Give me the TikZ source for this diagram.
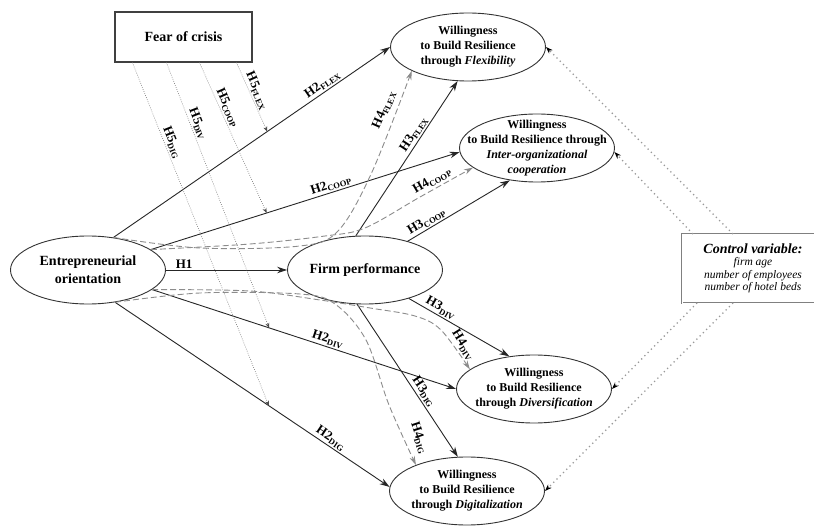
\documentclass[tikz,border=0pt]{standalone}
\usepackage{fontspec}
\setmainfont{Liberation Serif}
\usetikzlibrary{shapes.geometric,arrows.meta,calc}

% hypothesis label: bold name with a small lowered tag
\newcommand{\hlab}[2]{#1{\fontsize{8.5}{9}\selectfont\raisebox{-2.3pt}{#2}}}

\begin{document}
\begin{tikzpicture}[x=1pt,y=-1pt,
  construct/.style={ellipse, draw=black!80, line width=0.9pt, fill=white,
    inner sep=-60pt, minimum width=155pt, minimum height=68pt, align=center,
    font=\fontsize{12}{15}\selectfont\bfseries},
  mainconstruct/.style={construct, font=\fontsize{14}{18}\selectfont\bfseries},
  direct/.style={draw=black!85, line width=0.9pt, -{Stealth[length=10pt,width=6.5pt]}},
  indirect/.style={draw=black!45, line width=0.9pt, dash pattern=on 6pt off 3pt,
    -{Stealth[length=9pt,width=5.5pt]}},
  moderation/.style={draw=black!55, line width=0.6pt, dash pattern=on 0.7pt off 1.5pt,
    -{Stealth[length=5pt,width=4pt,black!70]}},
  controlpath/.style={draw=black!40, line width=1.8pt, line cap=round,
    dash pattern=on 0pt off 4.6pt, -{Stealth[length=7pt,width=5pt,black]}},
  hyp/.style={font=\fontsize{13}{13}\selectfont\bfseries, sloped, above, inner sep=1.5pt},
  hypfree/.style={font=\fontsize{13}{13}\selectfont\bfseries, inner sep=1pt},
]
\useasboundingbox (0,0) rectangle (814,526);
\fill[white] (0,0) rectangle (814,526);

% constructs
\node[mainconstruct] (eo) at (88,270) {Entrepreneurial\\orientation};
\node[mainconstruct] (fp) at (365,270) {Firm performance};
\node[construct] (flex) at (468,47) {Willingness\\to Build Resilience\\through \textit{Flexibility}};
\node[construct] (coop) at (537,148) {Willingness\\to Build Resilience through\\\textit{Inter-organizational}\\\textit{cooperation}};
\node[construct] (div) at (534,389) {Willingness\\to Build Resilience\\through \textit{Diversification}};
\node[construct] (dig) at (467,491) {Willingness\\to Build Resilience\\through \textit{Digitalization}};

\node[draw=black!75, line width=1.1pt, minimum width=137pt, minimum height=50pt,
  inner sep=0pt, font=\fontsize{14}{16}\selectfont\bfseries] (fear) at (183.5,37) {Fear of crisis};

\node[draw=black!50, double=white, double distance=0.9pt, line width=0.7pt,
  minimum width=142pt, minimum height=69pt, inner sep=0pt, align=center,
  font=\fontsize{11.5}{12.5}\selectfont\itshape] (ctrl) at (753,268.5)
  {{\fontsize{14}{15}\selectfont\bfseries Control variable:}\\firm age\\number of employees\\number of hotel beds};

% direct effects of entrepreneurial orientation
\draw[direct] (eo.52) -- node[hyp, pos=0.77] {\hlab{H2}{FLEX}} coordinate[pos=0.556] (m-flex) (flex.west);
\draw[direct] (eo.18) -- node[hyp, pos=0.59] {\hlab{H2}{COOP}} coordinate[pos=0.375] (m-coop) (coop.183);
\draw[direct] (eo.east) -- node[hyp, pos=0.15] {H1} (fp.west);
\draw[direct] (eo.-17) -- node[hyp, pos=0.57] {\hlab{H2}{DIV}} coordinate[pos=0.385] (m-div) (div.west);
\draw[direct] (eo.-50) -- node[hyp, pos=0.77] {\hlab{H2}{DIG}} coordinate[pos=0.56] (m-dig) (dig.177);

% effects of firm performance
\draw[direct] (fp.105) -- node[hyp, pos=0.63] {\hlab{H3}{FLEX}} (flex.253);
\draw[direct] (fp.34) -- node[hyp, pos=0.22] {\hlab{H3}{COOP}} (coop.230);
\draw[direct] (fp.-33) -- node[hyp, pos=0.28] {\hlab{H3}{DIV}} (div.127);
\draw[direct] (fp.257) -- node[hyp, pos=0.6] {\hlab{H3}{DIG}} (dig.105);

% mediated paths around firm performance
\draw[indirect] plot[smooth, tension=0.55] coordinates
  {(eo.52) (200,248) (300,246) (338,231) (372,172) (flex.203)};
\draw[indirect] plot[smooth, tension=0.55] coordinates
  {(eo.18) (250,244) (325,236) (365,228) (420,197) (coop.197)};
\draw[indirect] plot[smooth, tension=0.55] coordinates
  {(eo.-17) (250,291) (320,300) (370,308) (415,316) (441,330) (div.163)};
\draw[indirect] plot[smooth, tension=0.55] coordinates
  {(eo.-50) (200,293) (300,294) (335,304) (366,340) (389,405) (dig.153)};

\node[hypfree, rotate=66] (l4flex) at (384,110) {\hlab{H4}{FLEX}};
\node[hypfree, rotate=30] (l4coop) at (432,181) {\hlab{H4}{COOP}};
\node[hypfree, rotate=-58] (l4div) at (463,345) {\hlab{H4}{DIV}};
\node[hypfree, rotate=-72] (l4dig) at (419,438) {\hlab{H4}{DIG}};

% moderation by fear of crisis
\draw[moderation] ($(fear.south west)+(122,0)$) -- node[hyp, pos=0.45] {\hlab{H5}{FLEX}} (m-flex);
\draw[moderation] ($(fear.south west)+(85,0)$) -- node[hyp, pos=0.32] {\hlab{H5}{COOP}} (m-coop);
\draw[moderation] ($(fear.south west)+(52,0)$) -- node[hyp, pos=0.24] {\hlab{H5}{DIV}} (m-div);
\draw[moderation] ($(fear.south west)+(18,0)$) -- node[hyp, pos=0.24] {\hlab{H5}{DIG}} (m-dig);

% control variables
\draw[controlpath] ($(ctrl.north west)+(51,0)$) -- (flex.east);
\draw[controlpath] ($(ctrl.north west)+(11,0)$) -- (coop.-3);
\draw[controlpath] ($(ctrl.south west)+(15,0)$) -- (div.east);
\draw[controlpath] ($(ctrl.south west)+(51,0)$) -- (dig.east);
\end{tikzpicture}
\end{document}
